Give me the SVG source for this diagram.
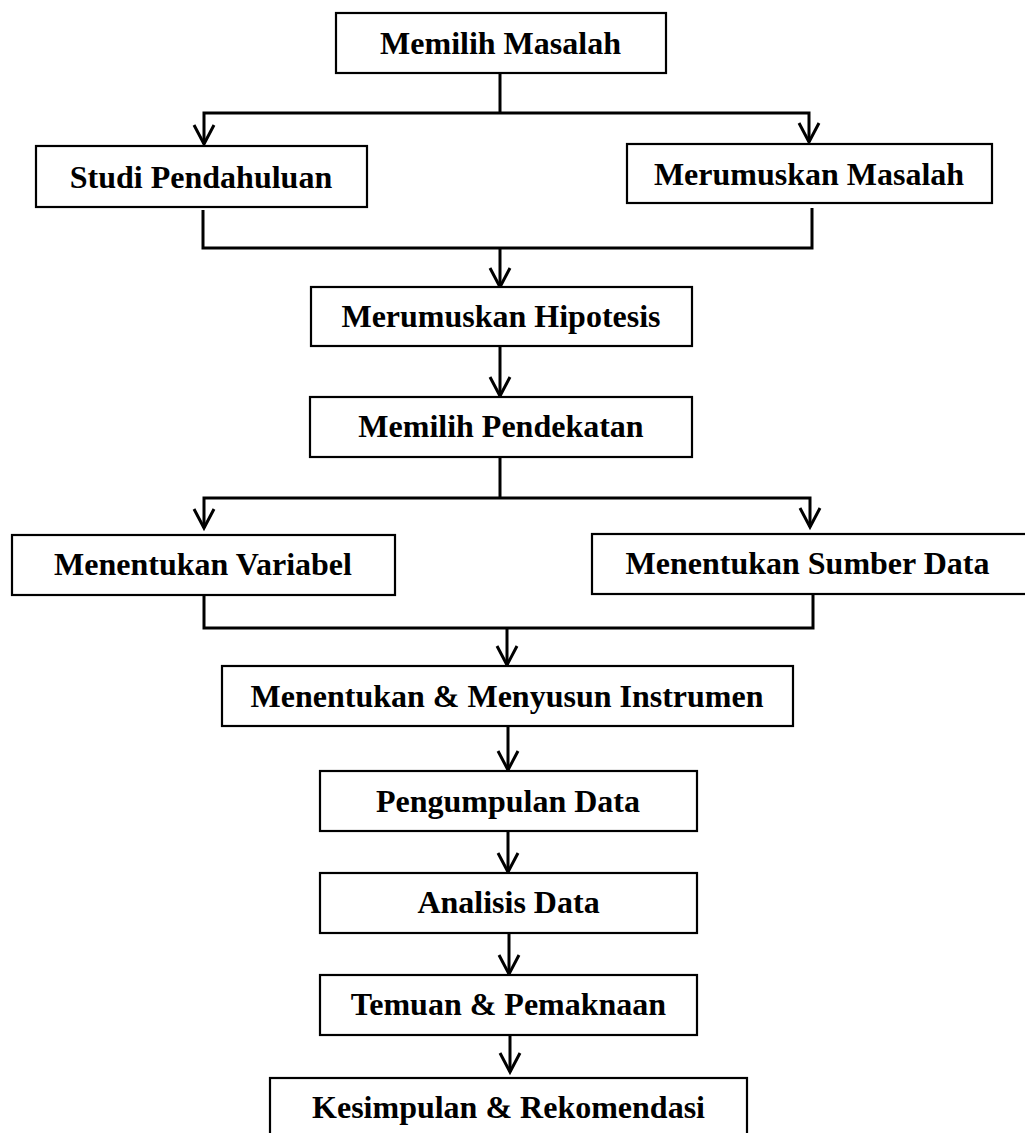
<svg xmlns="http://www.w3.org/2000/svg" width="1025" height="1133" viewBox="0 0 1025 1133">
<style>
.box{fill:#fff;stroke:#000;stroke-width:2.2}
.lbl{font-family:"Liberation Serif","Times New Roman",serif;font-weight:bold;font-size:32px;fill:#000;text-anchor:middle}
.con{fill:none;stroke:#000;stroke-width:3;stroke-linejoin:miter}
</style>
<defs>
<marker id="ah" markerUnits="userSpaceOnUse" markerWidth="30" markerHeight="30" viewBox="-25 -15 30 30" refX="0" refY="0" orient="auto" overflow="visible">
<path d="M-19,-10 L0,0 L-19,10" fill="none" stroke="#000" stroke-width="3"/>
</marker>
</defs>
<rect width="1025" height="1133" fill="#fff"/>
<g id="connectors">
<path class="con" d="M500,73 V113"/>
<path class="con" d="M500,113 H204 V144" marker-end="url(#ah)"/>
<path class="con" d="M500,113 H809 V142" marker-end="url(#ah)"/>
<path class="con" d="M203,210 V248 H812 V208"/>
<path class="con" d="M500,248 V287" marker-end="url(#ah)"/>
<path class="con" d="M500,346 V396" marker-end="url(#ah)"/>
<path class="con" d="M500,457 V498"/>
<path class="con" d="M500,498 H204 V528" marker-end="url(#ah)"/>
<path class="con" d="M500,498 H810 V527" marker-end="url(#ah)"/>
<path class="con" d="M204,596 V628 H813 V595"/>
<path class="con" d="M507,628 V665" marker-end="url(#ah)"/>
<path class="con" d="M508,726 V770" marker-end="url(#ah)"/>
<path class="con" d="M508,831 V872" marker-end="url(#ah)"/>
<path class="con" d="M509,933 V974" marker-end="url(#ah)"/>
<path class="con" d="M510,1035 V1072" marker-end="url(#ah)"/>
</g>
<g id="n1"><rect class="box" x="336" y="13" width="330" height="60"/><text class="lbl" x="500.5" y="54">Memilih Masalah</text></g>
<g id="n2"><rect class="box" x="36" y="146" width="331" height="61"/><text class="lbl" x="201" y="188">Studi Pendahuluan</text></g>
<g id="n3"><rect class="box" x="627" y="144" width="365" height="59"/><text class="lbl" x="809" y="185">Merumuskan Masalah</text></g>
<g id="n4"><rect class="box" x="311" y="287" width="381" height="59"/><text class="lbl" x="501" y="327">Merumuskan Hipotesis</text></g>
<g id="n5"><rect class="box" x="310" y="397" width="382" height="60"/><text class="lbl" x="501" y="437">Memilih Pendekatan</text></g>
<g id="n6"><rect class="box" x="12" y="535" width="383" height="60"/><text class="lbl" x="203" y="575">Menentukan Variabel</text></g>
<g id="n7"><rect class="box" x="592" y="534" width="440" height="60"/><text class="lbl" x="807.5" y="574">Menentukan Sumber Data</text></g>
<g id="n8"><rect class="box" x="222" y="666" width="571" height="60"/><text class="lbl" x="507" y="707">Menentukan &amp; Menyusun Instrumen</text></g>
<g id="n9"><rect class="box" x="320" y="771" width="377" height="60"/><text class="lbl" x="508" y="812">Pengumpulan Data</text></g>
<g id="n10"><rect class="box" x="320" y="873" width="377" height="60"/><text class="lbl" x="508.5" y="913">Analisis Data</text></g>
<g id="n11"><rect class="box" x="320" y="975" width="377" height="60"/><text class="lbl" x="508.5" y="1015">Temuan &amp; Pemaknaan</text></g>
<g id="n12"><rect class="box" x="270" y="1078" width="477" height="70"/><text class="lbl" x="508.5" y="1118">Kesimpulan &amp; Rekomendasi</text></g>
</svg>
